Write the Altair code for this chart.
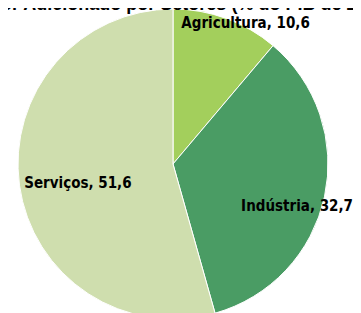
import altair as alt
import pandas as pd

setores = ["Agricultura", "Indústria", "Serviços"]
valores = [10.6, 32.7, 51.6]
cores = ["#a3cf5c", "#4a9c64", "#cfdeae"]
titulo = "Valor Adicionado por Setores (% do PIB de 2020)"

df = pd.DataFrame({"setor": setores, "valor": valores, "ordem": [0, 1, 2]})

CX, CY = 165, 156
FONT = "Liberation Sans Narrow, DejaVu Sans Condensed, sans-serif"

pie = alt.Chart(df).mark_arc(outerRadius=155, stroke="white", strokeWidth=1).encode(
    theta=alt.Theta("valor:Q", stack=True),
    order=alt.Order("ordem:O"),
    color=alt.Color("setor:N", scale=alt.Scale(domain=setores, range=cores), legend=None),
    x=alt.value(CX),
    y=alt.value(CY),
)

lab_base = alt.Chart(df).transform_stack(
    stack="valor", groupby=[], as_=["v0", "v1"], sort=[alt.SortField("ordem")]
).transform_calculate(
    meio="(datum.v0 + datum.v1) / 2",
    rotulo="datum.setor + ', ' + replace(format(datum.valor, '.1f'), '.', ',')",
)

def rotulo(nome, radius, dx, dy):
    return lab_base.transform_filter(alt.datum.setor == nome).mark_text(
        radius=radius, dx=dx, dy=dy, font=FONT, fontSize=15, fontWeight="bold",
        color="black", align="center", baseline="middle",
    ).encode(
        theta=alt.Theta("meio:Q", stack=None),
        text="rotulo:N", x=alt.value(CX), y=alt.value(CY),
    )

lab_a = rotulo("Agricultura", 150, 21, 0)
lab_i = rotulo("Indústria", 130, -3, 14)
lab_s = rotulo("Serviços", 96, 0, 6)

title = alt.Chart(pd.DataFrame({"t": [titulo]})).mark_text(
    font="Liberation Sans, Arial, sans-serif", fontSize=18, fontWeight="bold",
    baseline="alphabetic", align="left", color="black"
).encode(text="t:N", x=alt.value(-33), y=alt.value(2))

chart = alt.layer(pie, lab_a, lab_i, lab_s, title).properties(
    width=345, height=305, autosize=alt.AutoSizeParams(type="none"), padding=0
).configure_view(stroke=None)

chart.save("out.html", embed_options={"renderer": "svg", "actions": False})
